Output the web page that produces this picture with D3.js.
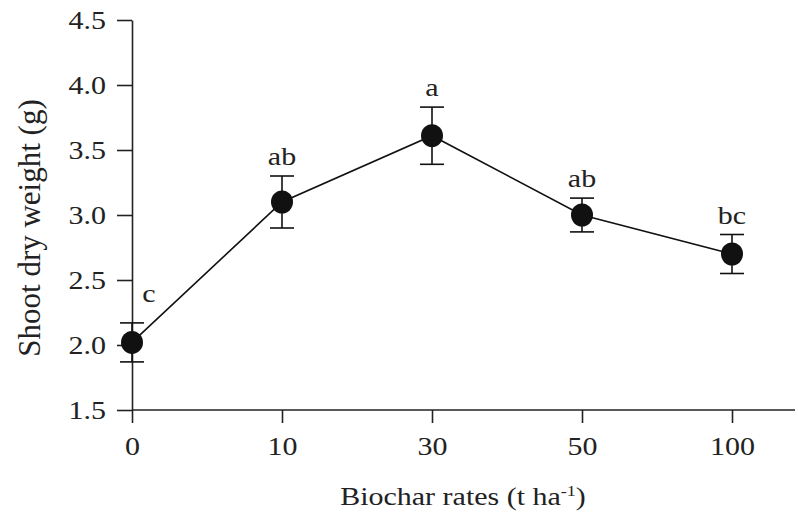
<!DOCTYPE html>
<html>
<head>
<meta charset="utf-8">
<script src="https://cdn.jsdelivr.net/npm/d3@7"></script>
<style>
  html, body { margin: 0; padding: 0; background: #fff; }
  svg { display: block; font-family: 'Liberation Serif', 'Times New Roman', serif; }
  .axis path, .axis line { stroke: #222; stroke-width: 1.6; }
  .axis text { fill: #222; font-size: 25px; font-family: 'Liberation Serif', 'Times New Roman', serif; }
</style>
</head>
<body>
<div id="chart"></div>
<script>
const rates = ['0', '10', '30', '50', '100']
const weights = [2.02, 3.1, 3.61, 3.0, 2.7]
const errors = [0.15, 0.2, 0.22, 0.13, 0.15]
const groups = ['c', 'ab', 'a', 'ab', 'bc']
const yTicks = [1.5, 2.0, 2.5, 3.0, 3.5, 4.0, 4.5]

const width = 798
const height = 517
const margin = { top: 20, right: 3, bottom: 107, left: 132 }
const SX = 1.2 // the source figure is stretched horizontally

const data = rates.map((r, i) => ({ rate: r, value: weights[i], err: errors[i], group: groups[i] }))

const svg = d3.select('#chart').append('svg').attr('width', width).attr('height', height)

const x = d3.scalePoint().domain(rates).range([margin.left, margin.left + 600])
const y = d3.scaleLinear().domain([1.5, 4.5]).range([height - margin.bottom, margin.top])

// x axis line runs past the last category
svg.append('line')
  .attr('x1', margin.left).attr('x2', width - margin.right)
  .attr('y1', y(1.5)).attr('y2', y(1.5))
  .attr('stroke', '#222').attr('stroke-width', 1.6)

const xAxisG = svg.append('g').attr('class', 'axis')
  .attr('transform', `translate(0,${y(1.5)})`)
  .call(d3.axisBottom(x).tickSizeInner(13).tickSizeOuter(0).tickPadding(14))
xAxisG.select('.domain').remove()
xAxisG.selectAll('text').attr('transform', `scale(${SX},1)`)

const yAxisG = svg.append('g').attr('class', 'axis')
  .attr('transform', `translate(${margin.left},0)`)
  .call(d3.axisLeft(y).tickValues(yTicks).tickFormat(d3.format('.1f')).tickSizeInner(15).tickSizeOuter(0).tickPadding(11))
yAxisG.selectAll('text')
  .attr('x', -26 / SX)
  .attr('transform', `scale(${SX},1)`)

// axis titles
svg.append('text')
  .attr('text-anchor', 'middle')
  .attr('transform', `translate(463,505) scale(${SX},1)`)
  .attr('font-size', 25).attr('fill', '#222')
  .html('Biochar rates (t ha<tspan dy="-9" font-size="15">-1</tspan><tspan dy="9">)</tspan>')

svg.append('text')
  .attr('text-anchor', 'middle')
  .attr('transform', 'translate(40,228) rotate(-90)')
  .attr('font-size', 31).attr('fill', '#222')
  .text('Shoot dry weight (g)')

// connecting line
const line = d3.line().x((d) => x(d.rate)).y((d) => y(d.value))
svg.append('path').datum(data)
  .attr('fill', 'none').attr('stroke', '#111').attr('stroke-width', 1.6)
  .attr('d', line)

// error bars
const eb = svg.append('g').attr('stroke', '#111').attr('stroke-width', 1.6)
eb.selectAll('line.v').data(data).join('line').attr('class', 'v')
  .attr('x1', (d) => x(d.rate)).attr('x2', (d) => x(d.rate))
  .attr('y1', (d) => y(d.value - d.err)).attr('y2', (d) => y(d.value + d.err))
eb.selectAll('line.top').data(data).join('line').attr('class', 'top')
  .attr('x1', (d) => x(d.rate) - 12).attr('x2', (d) => x(d.rate) + 12)
  .attr('y1', (d) => y(d.value + d.err)).attr('y2', (d) => y(d.value + d.err))
eb.selectAll('line.bot').data(data).join('line').attr('class', 'bot')
  .attr('x1', (d) => x(d.rate) - 12).attr('x2', (d) => x(d.rate) + 12)
  .attr('y1', (d) => y(d.value - d.err)).attr('y2', (d) => y(d.value - d.err))

// markers
svg.append('g').selectAll('ellipse').data(data).join('ellipse')
  .attr('cx', (d) => x(d.rate)).attr('cy', (d) => y(d.value))
  .attr('rx', 11).attr('ry', 11.5)
  .attr('fill', '#111')

// significance letters
svg.append('g').selectAll('text').data(data).join('text')
  .attr('text-anchor', 'middle')
  .attr('font-size', 25).attr('fill', '#222')
  .attr('transform', (d, i) => {
    const dx = i === 0 ? 17 : 0
    const dy = i === 0 ? -21 : -11
    return `translate(${x(d.rate) + dx},${y(d.value + d.err) + dy}) scale(${SX},1)`
  })
  .text((d) => d.group)
</script>
</body>
</html>
